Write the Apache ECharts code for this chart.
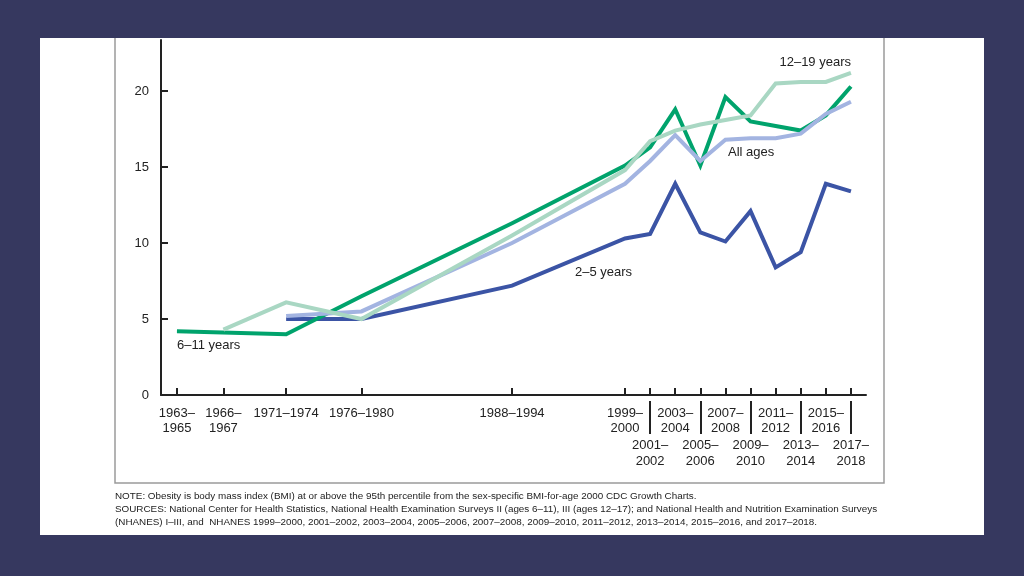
<!DOCTYPE html>
<html><head><meta charset="utf-8">
<script src="https://cdn.jsdelivr.net/npm/echarts@6/dist/echarts.min.js"></script>
<style>
html,body{margin:0;padding:0;background:#36385f;}
#panel{position:absolute;left:40px;top:38px;width:944px;height:497px;background:#fff;}
#c{position:absolute;left:0;top:0;width:1024px;height:576px;}
</style>
</head><body><div id="panel"></div><div id="c"></div>
<script>
// Survey periods and their positions along the time axis (years)
const periods = ['1963–\n1965','1966–\n1967','1971–1974','1976–1980','1988–1994','1999–\n2000','2001–\n2002','2003–\n2004','2005–\n2006','2007–\n2008','2009–\n2010','2011–\n2012','2013–\n2014','2015–\n2016','2017–\n2018'];
const periodPos = [1963.8,1967.5,1972.5,1978.5,1990.5,1999.5,2001.5,2003.5,2005.5,2007.5,2009.5,2011.5,2013.5,2015.5,2017.5];
const lowerRow = [false,false,false,false,false,false,true,false,true,false,true,false,true,false,true];
// Obesity prevalence (%)
const ages2to5  = [null,null,5.0,5.0,7.2,10.3,10.6,13.9,10.7,10.1,12.1,8.4,9.4,13.9,13.4];
const ages6to11 = [4.2,null,4.0,6.5,11.3,15.1,16.3,18.8,15.1,19.6,18.0,17.7,17.4,18.4,20.3];
const ages12to19= [null,4.3,6.1,5.0,10.5,14.8,16.7,17.4,17.8,18.1,18.4,20.5,20.6,20.6,21.2];
const allAges   = [null,null,5.2,5.5,10.0,13.9,15.4,17.1,15.4,16.8,16.9,16.9,17.2,18.5,19.3];
const yTicks = [0,5,10,15,20];
const notes = [
  'NOTE: Obesity is body mass index (BMI) at or above the 95th percentile from the sex-specific BMI-for-age 2000 CDC Growth Charts.',
  'SOURCES: National Center for Health Statistics, National Health Examination Surveys II (ages 6–11), III (ages 12–17); and National Health and Nutrition Examination Surveys',
  '(NHANES) I–III, and  NHANES 1999–2000, 2001–2002, 2003–2004, 2005–2006, 2007–2008, 2009–2010, 2011–2012, 2013–2014, 2015–2016, and 2017–2018.'
];

const FONT = '"Liberation Sans", Arial, sans-serif';
const INK = '#222';
const upperPos = periodPos.filter((p,i)=>!lowerRow[i]);
const lowerPos = periodPos.filter((p,i)=>lowerRow[i]);
const labelOf = v => { const i = periodPos.findIndex(p => Math.abs(p - v) < 1e-6); return i >= 0 ? periods[i] : ''; };
const toData = arr => periodPos.map((x,i)=>[x, arr[i]]).filter(d => d[1] !== null);

function lineSeries(name, arr, color){
  return { name, type:'line', data: toData(arr), symbol:'none', silent:true,
    lineStyle:{ color, width:4, join:'miter', cap:'butt' } };
}

const chart = echarts.init(document.getElementById('c'), null, {renderer:'canvas'});
chart.setOption({
  animation:false,
  backgroundColor:'transparent',
  textStyle:{ fontFamily: FONT },
  grid:{ left:161, right:158, top:40, bottom:181 },
  xAxis:[{
    type:'value', min:1962.53, max:2018.7, position:'bottom',
    splitLine:{show:false},
    axisLine:{ show:true, lineStyle:{ color:INK, width:2 } },
    axisTick:{ show:true, inside:true, length:7, customValues: periodPos, lineStyle:{ color:INK, width:2 } },
    axisLabel:{ customValues: upperPos, formatter: labelOf, color:INK, fontSize:13, lineHeight:15, margin:10.5, fontFamily:FONT }
  },{
    type:'value', min:1962.53, max:2018.7, position:'bottom', offset:6,
    splitLine:{show:false},
    axisLine:{ show:false },
    axisTick:{ show:true, inside:false, length:33, customValues: lowerPos, lineStyle:{ color:INK, width:2 } },
    axisLabel:{ customValues: lowerPos, formatter: labelOf, color:INK, fontSize:13, lineHeight:16, margin:36, fontFamily:FONT }
  }],
  yAxis:{
    type:'value', min:0, max:23.36,
    splitLine:{show:false},
    axisLine:{ show:true, lineStyle:{ color:INK, width:2 } },
    axisTick:{ show:true, inside:true, length:7, customValues: yTicks, lineStyle:{ color:INK, width:2 } },
    axisLabel:{ customValues: yTicks, color:INK, fontSize:13, margin:12, fontFamily:FONT }
  },
  series:[
    lineSeries('2–5 years', ages2to5, '#3b54a5'),
    lineSeries('6–11 years', ages6to11, '#00a36c'),
    lineSeries('All ages', allAges, '#a3b4e1'),
    lineSeries('12–19 years', ages12to19, '#a9d7c3')
  ],
  graphic:[
    { type:'polyline', silent:true, shape:{ points:[[115,38],[115,483],[884,483],[884,38]] },
      style:{ stroke:'#9a9a9a', lineWidth:1.5, fill:null } },
    { type:'text', silent:true, style:{ text:'12–19 years', x:851, y:62, align:'right', verticalAlign:'middle', font:'13px '+FONT, fill:INK } },
    { type:'text', silent:true, style:{ text:'All ages', x:728, y:152, align:'left', verticalAlign:'middle', font:'13px '+FONT, fill:INK } },
    { type:'text', silent:true, style:{ text:'2–5 years', x:575, y:272, align:'left', verticalAlign:'middle', font:'13px '+FONT, fill:INK } },
    { type:'text', silent:true, style:{ text:'6–11 years', x:177, y:345, align:'left', verticalAlign:'middle', font:'13px '+FONT, fill:INK } },
    { type:'text', silent:true, style:{ text:notes[0], x:115, y:496, verticalAlign:'middle', font:'9.87px '+FONT, fill:INK } },
    { type:'text', silent:true, style:{ text:notes[1], x:115, y:509, verticalAlign:'middle', font:'9.87px '+FONT, fill:INK } },
    { type:'text', silent:true, style:{ text:notes[2], x:115, y:522, verticalAlign:'middle', font:'9.87px '+FONT, fill:INK } }
  ]
});
</script>
</body></html>
